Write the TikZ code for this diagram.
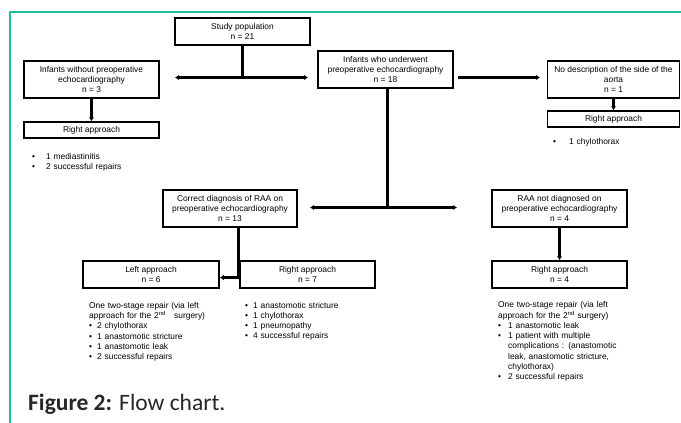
\documentclass[tikz,border=0pt]{standalone}
\usepackage{fontspec}
\setmainfont{Liberation Sans}
\newfontfamily\capfont{Carlito}
\usetikzlibrary{arrows.meta}

\definecolor{frameteal}{RGB}{30,190,160}
\definecolor{capgray}{RGB}{38,38,38}

\newcommand{\bitem}[2][8pt]{\par\hangindent=#1\hangafter=1\noindent\makebox[#1][l]{\textbullet}#2}
\newcommand{\brk}{\hfil\break}

\tikzset{
  box/.style={draw, line width=1.5pt, align=center, inner sep=1pt,
    font=\fontsize{8.4}{10}\selectfont},
  lst/.style={anchor=north west, inner sep=0pt, align=left,
    font=\fontsize{8.4}{10.3}\selectfont},
  conn/.style={line width=2.4pt},
  arr/.style={line width=2.4pt, -{Latex[length=4pt,width=5.5pt]}},
  darr/.style={line width=2.4pt, {Latex[length=4pt,width=5.5pt]}-{Latex[length=4pt,width=5.5pt]}}
}

\begin{document}
\begin{tikzpicture}[x=1pt,y=-1pt]
\useasboundingbox (0,0) rectangle (681,423);
\draw[frameteal, line width=1.3pt] (681,12) -- (10,12) -- (10,423);

% boxes
\node[box, minimum width=135pt, minimum height=27pt] (study) at (242.5,31.5) {Study population\\n = 21};
\node[box, minimum width=135pt, minimum height=37pt] (without) at (91.5,79.5) {Infants without preoperative\\echocardiography\\n = 3};
\node[box, minimum width=135pt, minimum height=16pt] (rightA) at (91.5,130) {Right approach};
\node[box, minimum width=135pt, minimum height=37pt] (underwent) at (385.5,69.5) {Infants who underwent\\preoperative echocardiography\\n = 18};
\node[box, minimum width=132pt, minimum height=37pt] (nodesc) at (613.5,79.5) {No description of the side of the\\aorta\\n = 1};
\node[box, minimum width=132pt, minimum height=16pt] (rightB) at (613.5,119) {Right approach};
\node[box, minimum width=134pt, minimum height=37pt] (correct) at (230,208.5) {Correct diagnosis of RAA on\\preoperative echocardiography\\n = 13};
\node[box, minimum width=135pt, minimum height=37pt] (notdiag) at (559.5,208.5) {RAA not diagnosed on\\preoperative echocardiography\\n = 4};
\node[box, minimum width=136pt, minimum height=27pt] (left) at (151,274.5) {Left approach\\n = 6};
\node[box, minimum width=135pt, minimum height=27pt] (rightC) at (307.5,274.5) {Right approach\\n = 7};
\node[box, minimum width=135pt, minimum height=27pt] (rightD) at (559.5,274.5) {Right approach\\n = 4};

% lists
\node[lst, text width=140pt] (listA) at (32,149) {\bitem[14pt]{1 mediastinitis}\bitem[14pt]{2 successful repairs}};
\node[lst, text width=120pt] (listB) at (553,134) {\bitem[16pt]{1 chylothorax}};
\node[lst, text width=150pt] (listL) at (89,302) {One two-stage repair (via left\brk approach for the 2\textsuperscript{nd}\ \ \ surgery)
  \bitem{2 chylothorax}\bitem{1 anastomotic stricture}\bitem{1 anastomotic leak}\bitem{2 successful repairs}};
\node[lst, text width=150pt] (listC) at (245,297.5) {\bitem{1 anastomotic stricture}\bitem{1 chylothorax}\bitem{1 pneumopathy}\bitem{4 successful repairs}};
\node[lst, text width=150pt] (listD) at (498,301.5) {One two-stage repair (via left\brk approach for the 2\textsuperscript{nd} surgery)
  \bitem[10pt]{1 anastomotic leak}\bitem[10pt]{1 patient with multiple\brk complications : (anastomotic\brk leak, anastomotic stricture,\brk chylothorax)}\bitem[10pt]{2 successful repairs}};

% connectors
\coordinate (j1) at (242.5,77.5);
\coordinate (a1L) at (175,77.5);
\coordinate (a1R) at (308,77.5);
\draw[conn] (study) -- (j1);
\draw[darr] (a1L) -- (a1R);
\draw[arr] (without) -- (rightA);
\coordinate (a2L) at (458,77.5);
\coordinate (a2R) at (540,77.5);
\draw[arr] (a2L) -- (a2R);
\draw[arr] (nodesc) -- (rightB);
\coordinate (j2) at (387.5,207.5);
\coordinate (a3L) at (310,207.5);
\coordinate (a3R) at (457,207.5);
\draw[conn] (underwent.south -| j2) -- (j2);
\draw[darr] (a3L) -- (a3R);
\draw[arr] (notdiag) -- (rightD);
\coordinate (j3) at (238.5,277.5);
\draw[conn] (correct.south -| j3) -- (j3);
\draw[arr] (j3) -- (j3 -| left.east);

\node[anchor=base west, inner sep=0pt, text=capgray, font=\capfont\fontsize{23.5}{26}\selectfont] (caption) at (28,410) {\textbf{Figure 2:} Flow chart.};
\end{tikzpicture}
\end{document}
